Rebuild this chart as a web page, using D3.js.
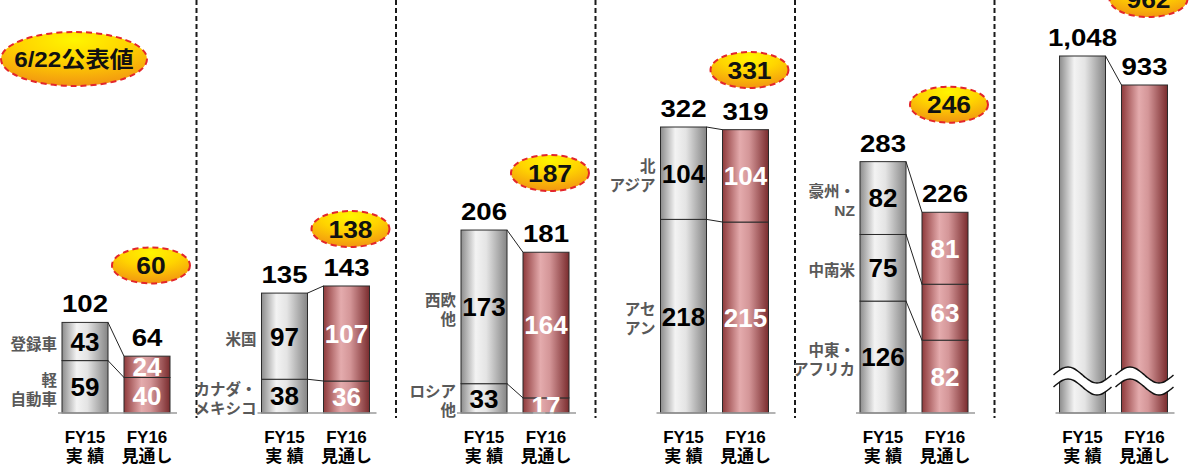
<!DOCTYPE html>
<html>
<head>
<meta charset="utf-8">
<script src="https://cdn.jsdelivr.net/npm/d3@7"></script>
<style>
  body { margin: 0; background: #fff; }
  text { font-family: "Liberation Sans", Arial, "Noto Sans CJK JP", sans-serif; font-weight: bold; }
</style>
</head>
<body>
<svg id="chart" width="1189" height="466"></svg>
<script>
// regions (one panel each), last one is the grand total
const panels = ["日本", "北米", "欧州", "アジア", "その他", "合計"];
const periods = ["FY15", "FY16"];
const periodSub = ["実 績", "見通し"];
// segment names, bottom to top
const segNames = [
  ["軽\n自動車", "登録車"],
  ["カナダ・\nメキシコ", "米国"],
  ["ロシア\n他", "西欧\n他"],
  ["アセ\nアン", "北\nアジア"],
  ["中東・\nアフリカ", "中南米", "豪州・\nNZ"],
  [""]
];
const fy15 = [[59, 43], [38, 97], [33, 173], [218, 104], [126, 75, 82], [1048]];
const fy16 = [[40, 24], [36, 107], [17, 164], [215, 104], [82, 63, 81], [933]];
const announced = [60, 138, 187, 331, 246, 962];   // 6/22公表値

const svg = d3.select("#chart");
const fmt = d3.format(",");

const xPanel = d3.scaleBand().domain(panels).range([-3, 1194]);
const xBar = d3.scaleBand().domain(periods).range([65, 173]).paddingInner(0.258);
const yMain = d3.scaleLinear().domain([0, 465]).range([413, 0]);
// total panel has a broken axis, its bars start at the bottom of the domain
const yTotal = d3.scaleLinear().domain([-368, 1048]).range([413, 56]);

const defs = svg.append("defs");
function linGrad(id, stops) {
  const g = defs.append("linearGradient").attr("id", id)
    .attr("x1", "0%").attr("x2", "100%").attr("y1", "0%").attr("y2", "0%");
  stops.forEach(s => g.append("stop").attr("offset", s[0]).attr("stop-color", s[1]));
}
linGrad("gGrey", [["0%", "#8c8c8c"], ["32%", "#f3f3f3"], ["55%", "#e4e4e4"], ["100%", "#858585"]]);
linGrad("gRed", [["0%", "#8e3a3b"], ["38%", "#e4abad"], ["58%", "#d49698"], ["100%", "#7a2c2e"]]);
const rg = defs.append("radialGradient").attr("id", "gBubble")
  .attr("cx", "50%").attr("cy", "15%").attr("r", "85%");
rg.append("stop").attr("offset", "0%").attr("stop-color", "#fff500");
rg.append("stop").attr("offset", "45%").attr("stop-color", "#ffd400");
rg.append("stop").attr("offset", "100%").attr("stop-color", "#f29511");

// dashed separators
svg.selectAll("line.sep")
  .data(panels.slice(1))
  .join("line")
  .attr("class", "sep")
  .attr("x1", d => xPanel(d)).attr("x2", d => xPanel(d))
  .attr("y1", 0).attr("y2", 418)
  .attr("stroke", "#1a1a1a").attr("stroke-width", 2)
  .attr("stroke-dasharray", "5,3");

function bubble(g, cx, cy, rx, ry, label, size) {
  g.append("ellipse")
    .attr("cx", cx).attr("cy", cy).attr("rx", rx).attr("ry", ry)
    .attr("fill", "url(#gBubble)")
    .attr("stroke", "#e3262b").attr("stroke-width", 2)
    .attr("stroke-dasharray", "6,4");
  g.append("text")
    .attr("transform", `translate(${cx},${cy}) scale(1.1,1)`)
    .attr("text-anchor", "middle").attr("dy", "0.36em")
    .attr("font-size", size).attr("fill", "#111")
    .text(label);
}

panels.forEach((p, i) => {
  const y = i === panels.length - 1 ? yTotal : yMain;
  const base = y.domain()[0];
  const g = svg.append("g").attr("transform", `translate(${xPanel(p)},0)`);
  const bw = xBar.bandwidth();
  const series = [fy15[i], fy16[i]];
  const tops = series.map(s => d3.sum(s));

  // stacked segments
  series.forEach((vals, j) => {
    const cum = d3.cumsum(vals);
    const segs = vals.map((v, k) => ({ v, k, y0: k === 0 ? base : cum[k] - v, y1: cum[k] }));
    const x0 = xBar(periods[j]);
    g.selectAll(`rect.s${j}`)
      .data(segs)
      .join("rect")
      .attr("class", `s${j}`)
      .attr("x", x0)
      .attr("y", d => y(d.y1))
      .attr("width", bw)
      .attr("height", d => y(d.y0) - y(d.y1))
      .attr("fill", j === 0 ? "url(#gGrey)" : "url(#gRed)")
      .attr("stroke", "#2b2b2b").attr("stroke-width", 1);

    if (vals.length > 1) {
      g.selectAll(`text.v${j}`)
        .data(segs)
        .join("text")
        .attr("class", `v${j}`)
        .attr("x", x0 + bw / 2)
        .attr("y", d => y((d.y0 + d.y1) / 2))
        .attr("dy", "0.36em")
        .attr("text-anchor", "middle")
        .attr("font-size", 26)
        .attr("fill", j === 0 ? "#000" : "#fff")
        .text(d => d.v);
    }

    // total above bar
    g.append("text")
      .attr("transform", `translate(${x0 + bw / 2},${y(tops[j]) - 10}) scale(1.2,1)`)
      .attr("text-anchor", "middle")
      .attr("font-size", 23).attr("fill", "#000")
      .text(fmt(tops[j]));

    // period labels
    g.append("text")
      .attr("x", x0 + bw / 2).attr("y", 443)
      .attr("text-anchor", "middle").attr("font-size", 17)
      .text(periods[j]);
    g.append("text")
      .attr("x", x0 + bw / 2).attr("y", 462)
      .attr("text-anchor", "middle").attr("font-size", 17)
      .text(periodSub[j]);
  });

  // connector lines between bars
  const c15 = d3.cumsum(fy15[i]), c16 = d3.cumsum(fy16[i]);
  g.selectAll("line.conn")
    .data(d3.range(c15.length))
    .join("line")
    .attr("class", "conn")
    .attr("x1", xBar("FY15") + bw).attr("y1", k => y(c15[k]))
    .attr("x2", xBar("FY16")).attr("y2", k => y(c16[k]))
    .attr("stroke", "#222").attr("stroke-width", 1);

  // baseline
  g.append("line")
    .attr("x1", xBar("FY15") - 4).attr("x2", xBar("FY16") + bw + 7)
    .attr("y1", y(base)).attr("y2", y(base))
    .attr("stroke", "#9a9a9a").attr("stroke-width", 1.5);

  // segment names to the left of FY15
  const cum = d3.cumsum(fy15[i]);
  segNames[i].forEach((name, k) => {
    if (!name) return;
    const lines = name.split("\n");
    const mid = y(cum[k] - fy15[i][k] / 2) + 3;
    const t = g.append("text")
      .attr("text-anchor", "end").attr("font-size", 15.5).attr("fill", "#595959");
    lines.forEach((ln, li) => {
      t.append("tspan")
        .attr("x", xBar("FY15") - 5)
        .attr("y", mid + (li - (lines.length - 1) / 2) * 19)
        .attr("dy", "0.36em")
        .text(ln);
    });
  });

  // break marks on the total panel
  if (i === panels.length - 1) {
    periods.forEach(per => {
      const xa = xBar(per) - 6, xb = xBar(per) + bw + 6;
      const pts = d3.range(0, 1.0001, 0.05);
      const wave = (yc) => pts.map(t => [xa + t * (xb - xa), yc - 8 * Math.sin(2 * Math.PI * t)]);
      const top = wave(375), bot = wave(387);
      const line = d3.line().curve(d3.curveCatmullRom);
      g.append("path")
        .attr("d", line(top) + "L" + line(bot.slice().reverse()).slice(1) + "Z")
        .attr("fill", "#fff");
      g.append("path").attr("d", line(top)).attr("fill", "none").attr("stroke", "#111").attr("stroke-width", 1.5);
      g.append("path").attr("d", line(bot)).attr("fill", "none").attr("stroke", "#111").attr("stroke-width", 1.5);
    });
  }

  // announced (6/22) value bubble
  const cx = xBar("FY16") + bw / 2 + 4;
  const cy = y(d3.max(tops)) - 57;
  bubble(g, cx, cy, 39, 18, announced[i], 24);
});

// legend bubble
bubble(svg.append("g"), 74, 59, 73, 27, "6/22公表値", 22);
</script>
</body>
</html>
